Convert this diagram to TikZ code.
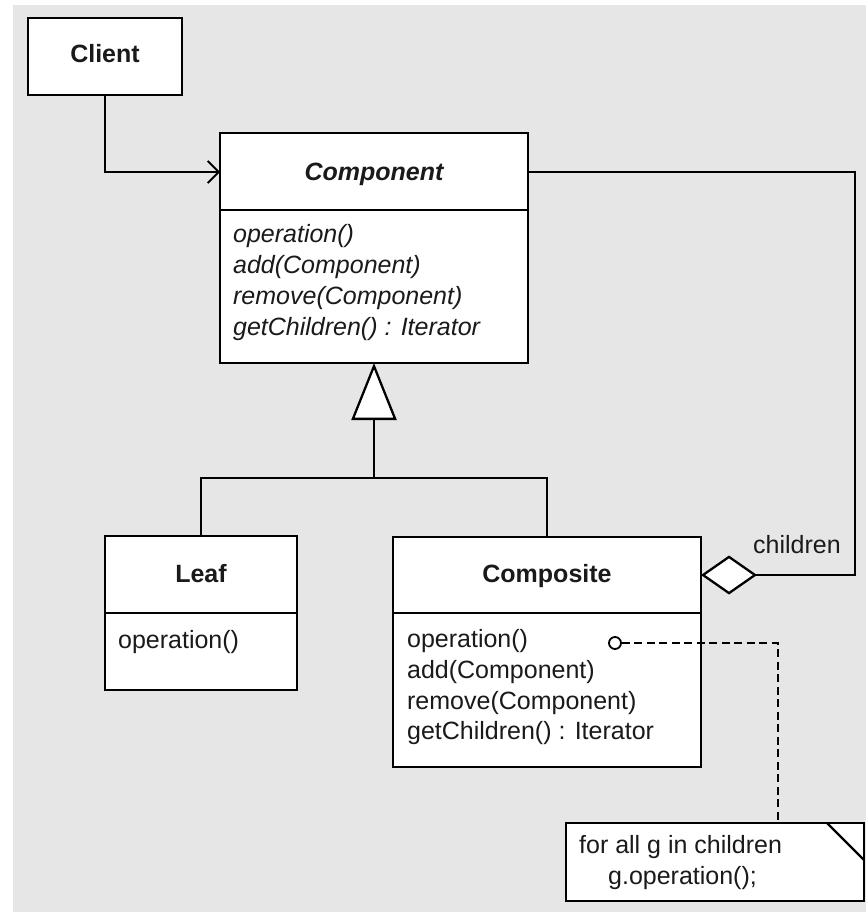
\documentclass[tikz,border=0pt]{standalone}
\usepackage{fontspec}
\setmainfont{Liberation Sans}
\usetikzlibrary{arrows.meta}
\definecolor{bg}{HTML}{E6E6E6}
\definecolor{ink}{HTML}{1A1A1A}
\begin{document}
\begin{tikzpicture}[x=1pt,y=-1pt,line width=2.3pt,
  box/.style={draw=black,fill=white,anchor=north west,outer sep=0pt,inner sep=0pt},
  ttl/.style={font=\fontsize{25}{30}\selectfont\bfseries,text=ink,inner sep=0pt,anchor=base},
  ittl/.style={font=\fontsize{25}{30}\selectfont\bfseries\itshape,text=ink,inner sep=0pt,anchor=base},
  meth/.style={font=\fontsize{25}{30}\selectfont,text=ink,inner sep=0pt,anchor=base west},
  imeth/.style={font=\fontsize{25}{30}\selectfont\itshape,text=ink,inner sep=0pt,anchor=base west},
  notelink/.style={line width=2.6pt,dash pattern=on 8pt off 4.5pt}
]
\useasboundingbox (0,0) rectangle (866,912);
\fill[bg] (13,5) rectangle (866,912);

% Client
\node[box,minimum width=154pt,minimum height=77pt] (client) at (28,18) {};
\node[ttl] (clientT) at (105,63) {Client};

% Component
\node[box,minimum width=308pt,minimum height=230pt] (comp) at (220,133) {};
\draw (220,210) -- (528,210);
\node[ittl] (compT) at (374,180) {Component};
\node[imeth] (cm1) at (232,242) {operation()};
\node[imeth] (cm2) at (232,273) {add(Component)};
\node[imeth] (cm3) at (232,304) {remove(Component)};
\node[imeth] (cm4) at (232,335) {getChildren() : Iterator};

% Leaf
\node[box,minimum width=192pt,minimum height=154pt] (leaf) at (105,536) {};
\draw (105,613) -- (297,613);
\node[ttl] (leafT) at (201,582) {Leaf};
\node[meth] (lm1) at (117,648) {operation()};

% Composite
\node[box,minimum width=308pt,minimum height=230pt] (composite) at (393,537) {};
\draw (393,613) -- (701,613);
\node[ttl] (compoT) at (547,582) {Composite};
\node[meth] (pm1) at (406,647) {operation()};
\node[meth] (pm2) at (406,678) {add(Component)};
\node[meth] (pm3) at (406,709) {remove(Component)};
\node[meth] (pm4) at (406,739) {getChildren() : Iterator};

% Note
\node[box,minimum width=298pt,minimum height=78pt] (note) at (566,823) {};
\draw (827,823) -- (864,860);
\node[meth] (n1) at (578,853) {for all g in children};
\node[meth] (n2) at (607,884) {g.operation();};

% Client -> Component
\coordinate (aggTop) at (855,172);
\coordinate (aggBot) at (855,575);
\draw[-{Straight Barb[length=11pt,width=22pt,line width=1.8pt]}] (client.south) |- (comp.west |- aggTop);

% Generalization
\coordinate (gj) at (374,478);
\draw[-{Triangle[length=57pt,width=45pt,fill=white,line width=2.3pt]}] (gj) -- (comp.south);
\draw (leaf.north) |- (gj) -| (composite.north);

% Aggregation
\draw[-{Diamond[length=56pt,width=39pt,fill=white,line width=2.3pt]}] (comp.east |- aggTop) -- (aggTop) -- (aggBot) -- (composite.east |- aggBot);
\node[meth] (childL) at (752,553) {children};

% Note connector
\node[circle,draw=black,fill=white,line width=1.8pt,minimum size=12pt,inner sep=0pt] (dot) at (615,643) {};
\coordinate (nc) at (778,643);
\draw[notelink] (dot.east) -- (nc) -- (note.north -| nc);
\end{tikzpicture}
\end{document}
